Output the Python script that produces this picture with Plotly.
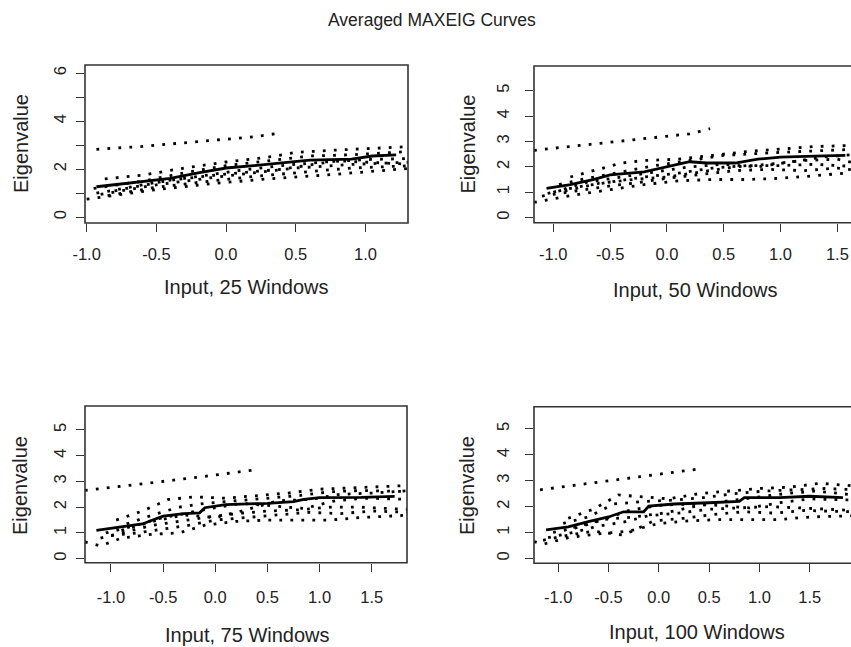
import plotly.graph_objects as go

# ---------------- data ----------------
# Panel 1: 25 windows
p1_top_x = [-0.93, -0.6, -0.3, 0.0, 0.2, 0.38]
p1_top_y = [2.83, 2.95, 3.1, 3.25, 3.35, 3.5]
p1_mean_x = [-0.93, -0.85, -0.6, -0.4, -0.2, 0.0, 0.2, 0.45, 0.6, 0.9, 1.05, 1.22]
p1_mean_y = [1.27, 1.32, 1.47, 1.62, 1.85, 2.05, 2.15, 2.3, 2.38, 2.42, 2.55, 2.6]
p1_band_x = [
    [-0.87, -0.6, -0.3, 0.0, 0.3, 0.5, 0.8, 1.1, 1.35],
    [-0.95, -0.6, -0.3, 0.0, 0.3, 0.6, 0.9, 1.35],
    [-0.93, -0.5, -0.2, 0.1, 0.4, 0.7, 1.0, 1.35],
    [-0.9, -0.5, -0.1, 0.2, 0.5, 0.9, 1.35],
    [-0.85, -0.5, -0.2, 0.2, 0.5, 0.9, 1.35],
    [-1.0, -0.8, -0.5, -0.1, 0.3, 0.7, 1.0, 1.35],
    [-0.8, -0.4, 0.0, 0.4, 0.8, 1.35],
]
p1_band_y = [
    [1.6, 1.75, 2.05, 2.3, 2.5, 2.7, 2.8, 2.9, 2.95],
    [1.2, 1.5, 1.85, 2.15, 2.35, 2.55, 2.6, 2.75],
    [1.0, 1.45, 1.7, 1.95, 2.15, 2.3, 2.4, 2.45],
    [0.95, 1.35, 1.65, 1.85, 2.05, 2.2, 2.3],
    [0.9, 1.25, 1.45, 1.7, 1.85, 2.05, 2.15],
    [0.75, 0.9, 1.15, 1.4, 1.6, 1.75, 1.9, 2.05],
    [1.1, 1.55, 1.8, 2.0, 2.35, 2.2],
]

# Panel 2: 50 windows
p2_top_x = [-1.17, -0.8, -0.4, 0.0, 0.2, 0.38]
p2_top_y = [2.65, 2.82, 3.0, 3.2, 3.3, 3.5]
p2_mean_x = [-1.06, -0.85, -0.65, -0.5, -0.2, 0.0, 0.2, 0.35, 0.6, 0.8, 1.0, 1.3, 1.57]
p2_mean_y = [1.15, 1.3, 1.5, 1.68, 1.8, 2.0, 2.2, 2.15, 2.15, 2.3, 2.38, 2.42, 2.45]
p2_band_x = [
    [-0.85, -0.6, -0.4, -0.2, 0.1, 0.4, 0.7, 1.0, 1.3, 1.7],
    [-0.95, -0.7, -0.4, -0.1, 0.2, 0.5, 0.9, 1.2, 1.7],
    [-1.0, -0.7, -0.4, -0.1, 0.2, 0.5, 0.8, 1.1, 1.4, 1.7],
    [-1.05, -0.8, -0.5, -0.2, 0.1, 0.4, 0.7, 1.0, 1.3, 1.7],
    [-1.1, -0.8, -0.5, -0.3, 0.0, 0.3, 0.6, 0.9, 1.2, 1.5, 1.7],
    [-1.17, -1.0, -0.8, -0.5, -0.2, 0.1, 0.4, 0.7, 1.0, 1.3, 1.7],
    [-0.9, -0.6, -0.3, 0.0, 0.3, 0.6, 0.9, 1.2, 1.5, 1.7],
]
p2_band_y = [
    [1.6, 1.9, 2.15, 2.25, 2.3, 2.45, 2.6, 2.7, 2.8, 2.85],
    [1.3, 1.55, 1.8, 2.05, 2.25, 2.45, 2.55, 2.6, 2.7],
    [1.0, 1.4, 1.6, 1.8, 2.0, 2.1, 2.0, 2.2, 2.4, 2.5],
    [0.95, 1.2, 1.4, 1.6, 1.75, 1.95, 2.05, 2.05, 2.1, 2.0],
    [0.85, 1.05, 1.25, 1.35, 1.55, 1.7, 1.85, 1.9, 1.85, 1.95, 1.85],
    [0.6, 0.75, 0.9, 1.1, 1.3, 1.45, 1.5, 1.5, 1.55, 1.65, 1.8],
    [1.05, 1.35, 1.5, 1.6, 1.8, 2.0, 2.1, 2.25, 2.3, 2.1],
]

# Panel 3: 75 windows
p3_top_x = [-1.25, -0.8, -0.4, 0.0, 0.25, 0.38, 0.38]
p3_top_y = [2.65, 2.85, 3.05, 3.25, 3.4, 3.45, 3.6]
p3_mean_x = [-1.14, -0.9, -0.7, -0.5, -0.3, -0.15, -0.1, 0.1, 0.5, 0.75, 0.85, 1.0, 1.4, 1.72]
p3_mean_y = [1.1, 1.25, 1.35, 1.65, 1.75, 1.78, 1.98, 2.1, 2.15, 2.22, 2.3, 2.37, 2.38, 2.42]
p3_band_x = [
    [-0.95, -0.7, -0.45, -0.2, 0.1, 0.4, 0.7, 1.0, 1.3, 1.6, 1.9],
    [-0.85, -0.6, -0.35, -0.1, 0.2, 0.5, 0.8, 1.1, 1.4, 1.9],
    [-1.05, -0.8, -0.55, -0.3, -0.05, 0.25, 0.55, 0.85, 1.15, 1.45, 1.9],
    [-1.1, -0.85, -0.6, -0.35, -0.1, 0.2, 0.5, 0.8, 1.1, 1.4, 1.9],
    [-1.0, -0.75, -0.5, -0.25, 0.0, 0.3, 0.6, 0.9, 1.2, 1.5, 1.9],
    [-1.25, -1.1, -0.9, -0.6, -0.35, -0.1, 0.2, 0.5, 0.8, 1.1, 1.4, 1.9],
    [-0.9, -0.6, -0.3, 0.0, 0.3, 0.6, 0.9, 1.2, 1.5, 1.9],
]
p3_band_y = [
    [1.5, 1.85, 2.3, 2.4, 2.35, 2.45, 2.55, 2.7, 2.75, 2.8, 2.85],
    [1.35, 1.7, 2.0, 2.15, 2.25, 2.35, 2.45, 2.6, 2.65, 2.6],
    [1.0, 1.25, 1.55, 1.75, 1.95, 2.15, 2.05, 1.95, 2.25, 2.35, 2.3],
    [0.8, 1.05, 1.3, 1.45, 1.6, 1.75, 1.85, 1.9, 2.0, 2.0, 1.9],
    [0.9, 1.0, 1.15, 1.3, 1.5, 1.6, 1.7, 1.8, 1.75, 1.85, 1.8],
    [0.65, 0.5, 0.8, 0.95, 1.0, 1.3, 1.45, 1.5, 1.5, 1.5, 1.6, 1.7],
    [1.1, 1.45, 1.7, 1.6, 1.9, 2.25, 2.3, 2.5, 2.55, 2.65],
]

# Panel 4: 100 windows
p4_top_x = [-1.18, -0.8, -0.4, 0.0, 0.25, 0.39, 0.39]
p4_top_y = [2.65, 2.85, 3.05, 3.25, 3.4, 3.45, 3.6]
p4_mean_x = [-1.12, -0.9, -0.7, -0.5, -0.35, -0.15, -0.1, 0.15, 0.5, 0.8, 0.85, 1.2, 1.5, 1.83]
p4_mean_y = [1.1, 1.22, 1.42, 1.6, 1.8, 1.8, 2.02, 2.1, 2.15, 2.2, 2.35, 2.35, 2.4, 2.35]
p4_band_x = [
    [-0.9, -0.65, -0.4, -0.2, 0.1, 0.4, 0.7, 1.0, 1.3, 1.6, 1.95],
    [-0.95, -0.7, -0.45, -0.15, 0.15, 0.45, 0.75, 1.05, 1.35, 1.65, 1.95],
    [-1.05, -0.8, -0.55, -0.3, 0.0, 0.3, 0.6, 0.9, 1.2, 1.5, 1.95],
    [-1.1, -0.85, -0.6, -0.35, -0.1, 0.2, 0.5, 0.8, 1.1, 1.4, 1.95],
    [-1.15, -0.9, -0.65, -0.35, -0.05, 0.25, 0.55, 0.85, 1.15, 1.45, 1.95],
    [-1.24, -1.15, -0.9, -0.6, -0.3, 0.0, 0.3, 0.6, 0.9, 1.2, 1.5, 1.95],
    [-0.85, -0.55, -0.25, 0.05, 0.35, 0.65, 0.95, 1.25, 1.55, 1.95],
]
p4_band_y = [
    [1.55, 1.9, 2.45, 2.4, 2.3, 2.5, 2.6, 2.7, 2.75, 2.9, 2.8],
    [1.35, 1.6, 2.1, 2.2, 2.25, 2.35, 2.5, 2.6, 2.65, 2.7, 2.65],
    [1.0, 1.2, 1.5, 1.85, 2.05, 2.1, 2.05, 1.95, 2.15, 2.3, 2.25],
    [0.8, 1.0, 1.25, 1.4, 1.65, 1.75, 1.9, 1.95, 2.0, 1.95, 1.85],
    [0.7, 0.9, 1.05, 0.9, 1.45, 1.55, 1.7, 1.8, 1.75, 1.85, 1.8],
    [0.65, 0.55, 0.8, 0.95, 1.05, 1.35, 1.45, 1.5, 1.5, 1.5, 1.6, 1.65],
    [1.2, 1.5, 1.6, 1.75, 2.0, 2.2, 2.35, 2.5, 2.6, 2.45],
]

x_titles = ["Input, 25 Windows", "Input, 50 Windows", "Input, 75 Windows", "Input, 100 Windows"]
y_title = "Eigenvalue"
main_title = "Averaged MAXEIG Curves"
x_tickvals = [[-1.0, -0.5, 0.0, 0.5, 1.0],
              [-1.0, -0.5, 0.0, 0.5, 1.0, 1.5],
              [-1.0, -0.5, 0.0, 0.5, 1.0, 1.5],
              [-1.0, -0.5, 0.0, 0.5, 1.0, 1.5]]
x_ticktext = [["-1.0", "-0.5", "0.0", "0.5", "1.0"],
              ["-1.0", "-0.5", "0.0", "0.5", "1.0", "1.5"],
              ["-1.0", "-0.5", "0.0", "0.5", "1.0", "1.5"],
              ["-1.0", "-0.5", "0.0", "0.5", "1.0", "1.5"]]
y_tickvals = [[0, 1, 2, 3, 4, 5, 6], [0, 1, 2, 3, 4, 5], [0, 1, 2, 3, 4, 5], [0, 1, 2, 3, 4, 5]]
y_ticktext = [["0", "", "2", "", "4", "", "6"],
              ["0", "1", "2", "3", "4", "5"],
              ["0", "1", "2", "3", "4", "5"],
              ["0", "1", "2", "3", "4", "5"]]

# ---------------- layout geometry ----------------
W, H = 851, 647
boxes = [  # left, right, top, bottom in pixels
    (85, 408, 65, 223),
    (534, 851, 66, 222.7),
    (85, 407, 406, 562.7),
    (534, 851, 406.7, 563.3),
]
x_ranges = [[-1.012, 1.305], [-1.17, 1.62], [-1.249, 1.838], [-1.24, 1.91]]
y_ranges = [[-0.24, 6.34], [-0.2, 5.97], [-0.155, 5.93], [-0.19, 5.86]]
x_standoff = [8, 8, 11, 11]
y_standoff = [3, 9, 3, 9]
xtitle_pos = [(246, 286.7), (695, 290), (247, 635), (697, 632)]
ytitle_pos = [(21, 144), (467, 144.5), (20, 486), (467, 486)]

panels = [
    (p1_top_x, p1_top_y, p1_mean_x, p1_mean_y, p1_band_x, p1_band_y),
    (p2_top_x, p2_top_y, p2_mean_x, p2_mean_y, p2_band_x, p2_band_y),
    (p3_top_x, p3_top_y, p3_mean_x, p3_mean_y, p3_band_x, p3_band_y),
    (p4_top_x, p4_top_y, p4_mean_x, p4_mean_y, p4_band_x, p4_band_y),
]

FONT = "Liberation Sans, Arial, Helvetica, sans-serif"
TXT = "#222222"
DOT = dict(color="black", width=2.8, dash="2.8px,8.2px")

fig = go.Figure()
layout = dict(
    width=W, height=H, margin=dict(l=0, r=0, t=0, b=0, autoexpand=False),
    paper_bgcolor="white", plot_bgcolor="white", showlegend=False,
    font=dict(family=FONT, color=TXT),
)
annotations = [dict(text=main_title, x=432 / W, y=1 - 20 / H, xref="paper", yref="paper",
                    showarrow=False, font=dict(size=17.5, family=FONT, color=TXT),
                    xanchor="center", yanchor="middle")]
shapes = []

for i, (tx, ty, mx, my, bx, by) in enumerate(panels):
    n = "" if i == 0 else str(i + 1)
    xa, ya = "x" + n, "y" + n
    for cx, cy in zip(bx, by):
        fig.add_trace(go.Scatter(x=cx, y=cy, mode="lines", line=DOT, xaxis=xa, yaxis=ya,
                                 hoverinfo="skip"))
    fig.add_trace(go.Scatter(x=tx, y=ty, mode="lines", line=DOT, xaxis=xa, yaxis=ya,
                             hoverinfo="skip"))
    fig.add_trace(go.Scatter(x=mx, y=my, mode="lines", line=dict(color="black", width=2.8),
                             xaxis=xa, yaxis=ya, hoverinfo="skip"))
    l, r, t, b = boxes[i]
    xdom = [l / W, min(r / W, 1.0)]
    ydom = [1 - b / H, 1 - t / H]
    layout["xaxis" + n] = dict(
        domain=xdom, range=x_ranges[i], anchor=ya, showgrid=False, zeroline=False,
        showline=False, ticks="outside", ticklen=8, tickwidth=1.3, tickcolor="#333",
        tickvals=x_tickvals[i], ticktext=x_ticktext[i], automargin=False,
        tickfont=dict(size=16.5, family=FONT, color=TXT), ticklabelstandoff=x_standoff[i],
    )
    layout["yaxis" + n] = dict(
        domain=ydom, range=y_ranges[i], anchor=xa, showgrid=False, zeroline=False,
        showline=False, ticks="outside", ticklen=8, tickwidth=1.3, tickcolor="#333",
        tickvals=y_tickvals[i], ticktext=y_ticktext[i], tickangle=-90, automargin=False,
        tickfont=dict(size=16.5, family=FONT, color=TXT), ticklabelstandoff=y_standoff[i],
    )
    x1 = 1.0 if r < W else 1.05
    shapes.append(dict(type="rect", xref=xa + " domain", yref=ya + " domain",
                       x0=0, x1=x1, y0=0, y1=1, line=dict(color="#333", width=1.6),
                       fillcolor="rgba(0,0,0,0)", layer="above"))
    px, py = xtitle_pos[i]
    annotations.append(dict(text=x_titles[i], x=px / W, y=1 - py / H, xref="paper", yref="paper",
                            showarrow=False, font=dict(size=20, family=FONT, color=TXT),
                            xanchor="center", yanchor="middle"))
    px, py = ytitle_pos[i]
    annotations.append(dict(text=y_title, x=px / W, y=1 - py / H, xref="paper", yref="paper",
                            showarrow=False, textangle=-90,
                            font=dict(size=20, family=FONT, color=TXT),
                            xanchor="center", yanchor="middle"))

layout["annotations"] = annotations
layout["shapes"] = shapes
fig.update_layout(**layout)
fig.write_html("out.html", config={"displayModeBar": False},
               post_script="document.body.style.margin='0';document.body.style.overflow='hidden';")
